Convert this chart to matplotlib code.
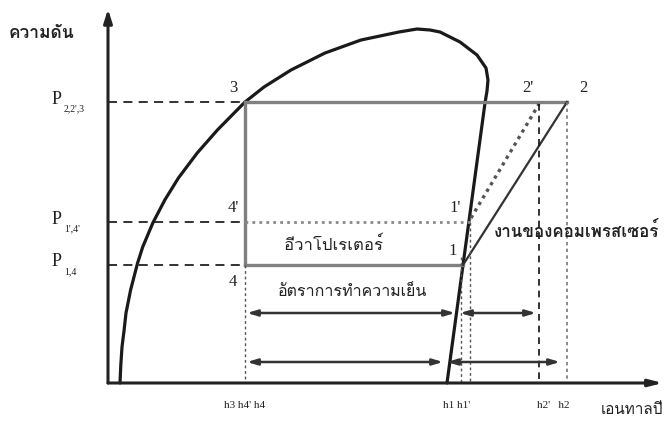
import matplotlib
matplotlib.use("Agg")
import matplotlib.pyplot as plt
from matplotlib import font_manager
from matplotlib.ft2font import FT2Font

# pressure levels (distance above the h axis) and enthalpy positions
P_high = 281     # P2,2',3
P_mid = 161      # P1',4'
P_low = 118      # P1,4
h3 = 137         # h3 = h4' = h4
h1 = 353
h1p = 362
h2p = 431
h2 = 459

# saturation dome (h, P)
dome_h = [12, 12.8, 14, 16, 18, 22.6, 29.6, 34.7, 44.8, 56.8, 70.4, 89.2, 109.4, 137,
          156, 183, 217, 253, 272, 291, 309, 322, 332, 352, 369, 378, 380, 379, 377, 339]
dome_P = [0, 18, 36, 52, 70, 93, 120, 136, 160, 183, 205, 230, 253, 281,
          296, 313, 330, 343, 347, 351, 354, 353, 351, 341, 328, 315, 303, 292, 280, 0]


def find_thai_font():
    for f in font_manager.fontManager.ttflist:
        try:
            if 0x0E01 in FT2Font(f.fname).get_charmap():
                return f.name
        except Exception:
            pass
    return "DejaVu Sans"


thai = find_thai_font()
serif = "Liberation Serif"
thai_fam = [thai, "DejaVu Sans"]

fig = plt.figure(figsize=(6.65, 4.25), dpi=100)
ax = fig.add_axes([0, 0, 1, 1])
ax.set_xlim(-108, 557)
ax.set_ylim(-42, 383)
ax.axis("off")

# axes with arrows
ax.annotate("", xy=(0, 374), xytext=(0, 0),
            arrowprops=dict(arrowstyle="-|>,head_width=0.25,head_length=0.8", lw=2.2,
                            color="#222222", shrinkA=0, shrinkB=0))
ax.annotate("", xy=(555, 0), xytext=(0, 0),
            arrowprops=dict(arrowstyle="-|>,head_width=0.2,head_length=0.8", lw=2.2,
                            color="#222222", shrinkA=0, shrinkB=0))

# dome
ax.plot(dome_h, dome_P, color="#1a1a1a", lw=2.3, solid_capstyle="round",
        solid_joinstyle="round")

# ideal cycle
grey = "#808080"
ax.plot([h3, h2], [P_high, P_high], color=grey, lw=2.4)
ax.plot([h3, h3], [P_high, P_low], color=grey, lw=2.4)
ax.plot([h3, h1 + 2], [P_low, P_low], color=grey, lw=2.4)
ax.plot([h1 + 2, h2], [P_low, P_high], color="#333333", lw=1.6)

# cycle with higher evaporator pressure
ax.plot([h3, h1p], [P_mid, P_mid], color="#8a8a8a", lw=2.0, ls=(0, (1, 1.5)))
ax.plot([h1p + 1, h2p], [P_mid + 4, P_high - 2], color="#555555", lw=2.4, ls=(0, (1, 1.3)))

# dashed guide lines to the P axis
for p in [P_high, P_mid, P_low]:
    ax.plot([0, h3], [p, p], color="#222222", lw=1.3, ls=(0, (5, 3.5)))

# dashed guide lines to the h axis
ax.plot([h3, h3], [P_low, 0], color="#555555", lw=1.0, ls=(0, (2, 2)))
ax.plot([h1, h1], [P_low + 8, 0], color="#555555", lw=1.0, ls=(0, (2, 2)))
ax.plot([h1p, h1p], [P_mid + 5, 0], color="#555555", lw=1.0, ls=(0, (2, 2)))
ax.plot([h2p, h2p], [P_high - 2, 0], color="#111111", lw=1.2, ls=(0, (4, 3)))
ax.plot([h2, h2], [P_high, 0], color="#777777", lw=1.2, ls=(0, (2, 2)))

# arrows for refrigerating effect and compressor work
arr = dict(arrowstyle="<|-|>,head_width=0.18,head_length=0.6", lw=1.8, color="#333333",
           shrinkA=0, shrinkB=0)
ax.annotate("", xy=(h3 + 2, 70), xytext=(h1 - 6, 70), arrowprops=arr)
ax.annotate("", xy=(h1 - 1, 70), xytext=(h2p - 3, 70), arrowprops=arr)
ax.annotate("", xy=(h3 + 2, 21), xytext=(h1 - 18, 21), arrowprops=arr)
ax.annotate("", xy=(h1 - 14, 21), xytext=(h2 - 7, 21), arrowprops=arr)

# point labels
pts = dict(fontsize=12, family=serif, color="#222222", ha="center", va="center")
ax.text(h3 - 12, P_high + 14, "3", **pts)
ax.text(h2 + 16, P_high + 14, "2", **pts)
ax.text(h2p - 11, P_high + 14, "2'", **pts)
ax.text(h1 - 6, P_mid + 14, "1'", **pts)
ax.text(h1 - 8, P_low + 14, "1", **pts)
ax.text(h3 - 12, P_mid + 14, "4'", **pts)
ax.text(h3 - 12, P_low - 17, "4", **pts)

# pressure labels
plab = dict(family=serif, color="#222222", va="center")
ax.text(-56, P_high + 3, "P", fontsize=13, **plab)
ax.text(-44, P_high - 7, "2,2',3", fontsize=7, **plab)
ax.text(-56, P_mid + 3, "P", fontsize=13, **plab)
ax.text(-44, P_mid - 7, "1',4'", fontsize=7, **plab)
ax.text(-56, P_low + 3, "P", fontsize=13, **plab)
ax.text(-44, P_low - 7, "1,4", fontsize=7, **plab)

# enthalpy labels
hl = dict(family=serif, fontsize=8, color="#222222", ha="center", va="center")
ax.text(h3, -22, "h3 h4' h4", **hl)
ax.text(h1 - 4, -22, "h1 h1'", **hl)
ax.text(h2p + 14, -22, "h2'   h2", **hl)

# Thai labels
ax.text(-99, 350, "ความดัน", family=thai_fam, fontsize=12.5, fontweight="bold",
        color="#222222", va="center")
ax.text(493, -27, "เอนทาลปี", family=thai_fam, fontsize=11, color="#222222", va="center")
ax.text(226, 138, "อีวาโปเรเตอร์", family=thai_fam, fontsize=12, color="#222222",
        ha="center", va="center")
ax.text(244, 91, "อัตราการทำความเย็น", family=thai_fam, fontsize=11.5, color="#222222",
        ha="center", va="center")
ax.text(386, 153, "งานของคอมเพรสเซอร์", family=thai_fam, fontsize=12.2, fontweight="bold",
        color="#222222", va="center")

fig.savefig("out.png", dpi=100)
